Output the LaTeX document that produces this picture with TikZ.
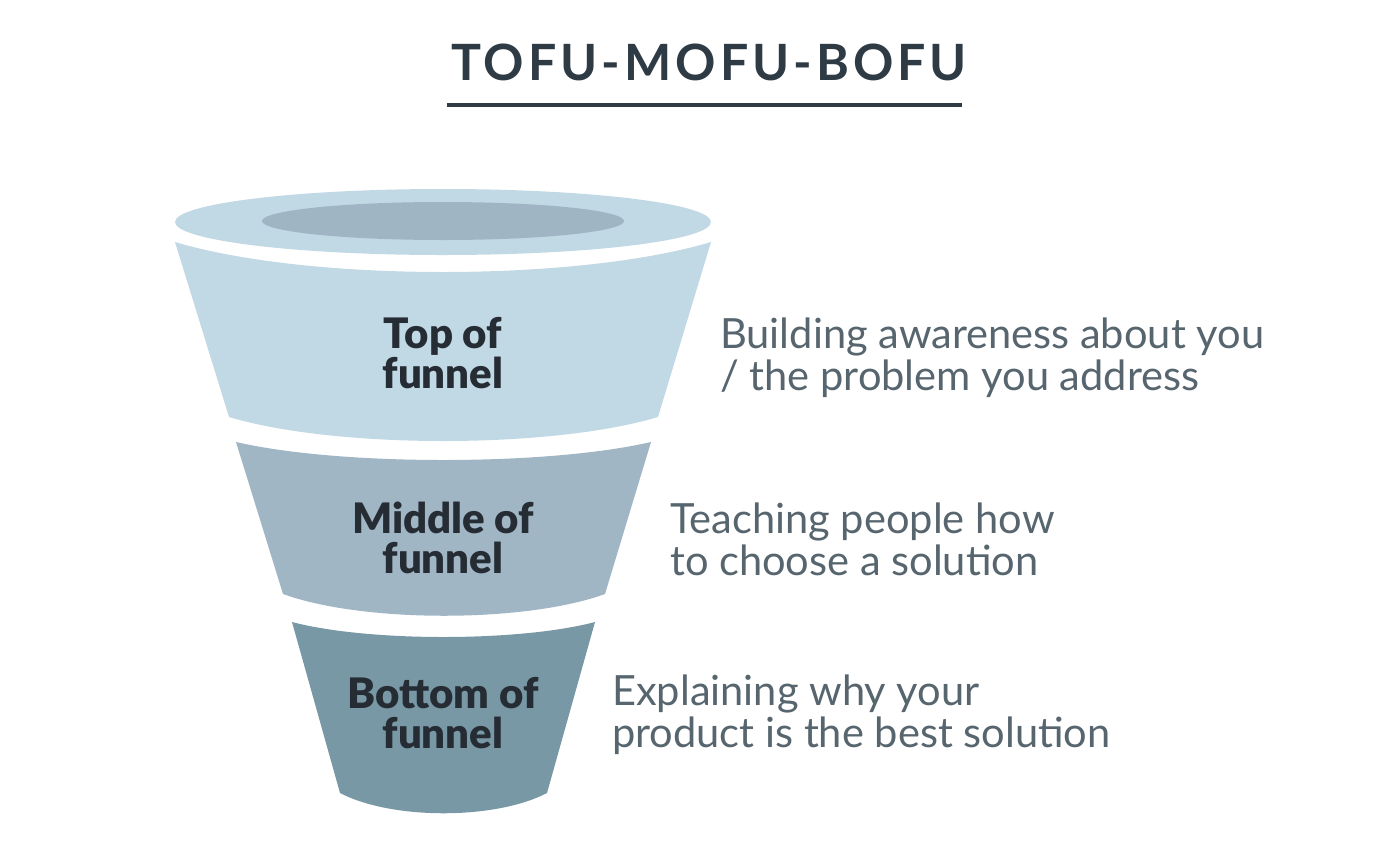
\documentclass[tikz,border=0pt]{standalone}
\usepackage{fontspec}
\setmainfont{Lato}
\newfontfamily\titlefont[LetterSpace=8]{Lato}
\newfontfamily\blackfont{Lato Black}
\definecolor{topc}{HTML}{C1D8E5}
\definecolor{innerc}{HTML}{9FB5C4}
\definecolor{midc}{HTML}{A0B6C4}
\definecolor{botc}{HTML}{7898A6}
\definecolor{titlec}{HTML}{2E3A44}
\definecolor{labc}{HTML}{262C33}
\definecolor{descc}{HTML}{56656E}
\tikzset{
  label text/.style={anchor=base, align=center, inner sep=0pt, text=labc,
    font=\fontsize{42}{40}\selectfont\blackfont},
  desc text/.style={anchor=base west, align=left, inner sep=0pt, text=descc,
    font=\fontsize{41.6}{42}\selectfont},
}
\begin{document}
\begin{tikzpicture}[x=1pt,y=-1pt]
\useasboundingbox (0,0) rectangle (1388,844);
\fill[white] (0,0) rectangle (1388,844);
% title
\node[anchor=base, inner sep=0pt, text=titlec, font=\fontsize{50}{50}\selectfont\titlefont\bfseries] (title) at (709,80) {TOFU-MOFU-BOFU};
\draw[titlec, line width=4pt] (447,105) -- (962,105);
% funnel rim
\fill[topc] (443,222) ellipse[x radius=268, y radius=33];
\fill[innerc] (443,221) ellipse[x radius=181, y radius=19];
% top segment
\fill[topc] (175,242) .. controls (309,282) and (577,282) .. (711,242)
  -- (658,417) .. controls (551,449) and (336,449) .. (229,417) -- cycle;
% middle segment
\fill[midc] (236,442) .. controls (340,466) and (547,466) .. (651,442)
  -- (605,594) .. controls (525,623) and (363,623) .. (283,594) -- cycle;
% bottom segment
\fill[botc] (292,622) .. controls (368,642) and (519,642) .. (595,622)
  -- (547,793) .. controls (495,820) and (392,820) .. (340,793) -- cycle;
% labels (base anchor = last line)
\node[label text] (ltop) at (443,388) {Top of\\funnel};
\node[label text] (lmid) at (443,573) {Middle of\\funnel};
\node[label text] (lbot) at (443,748) {Bottom of\\funnel};
% descriptions
\node[desc text] (dtop) at (720,390) {Building awareness about you\\/ the problem you address};
\node[desc text] (dmid) at (670,575) {Teaching people how\\to choose a solution};
\node[desc text] (dbot) at (612,747) {Explaining why your\\product is the best solution};
\end{tikzpicture}
\end{document}
